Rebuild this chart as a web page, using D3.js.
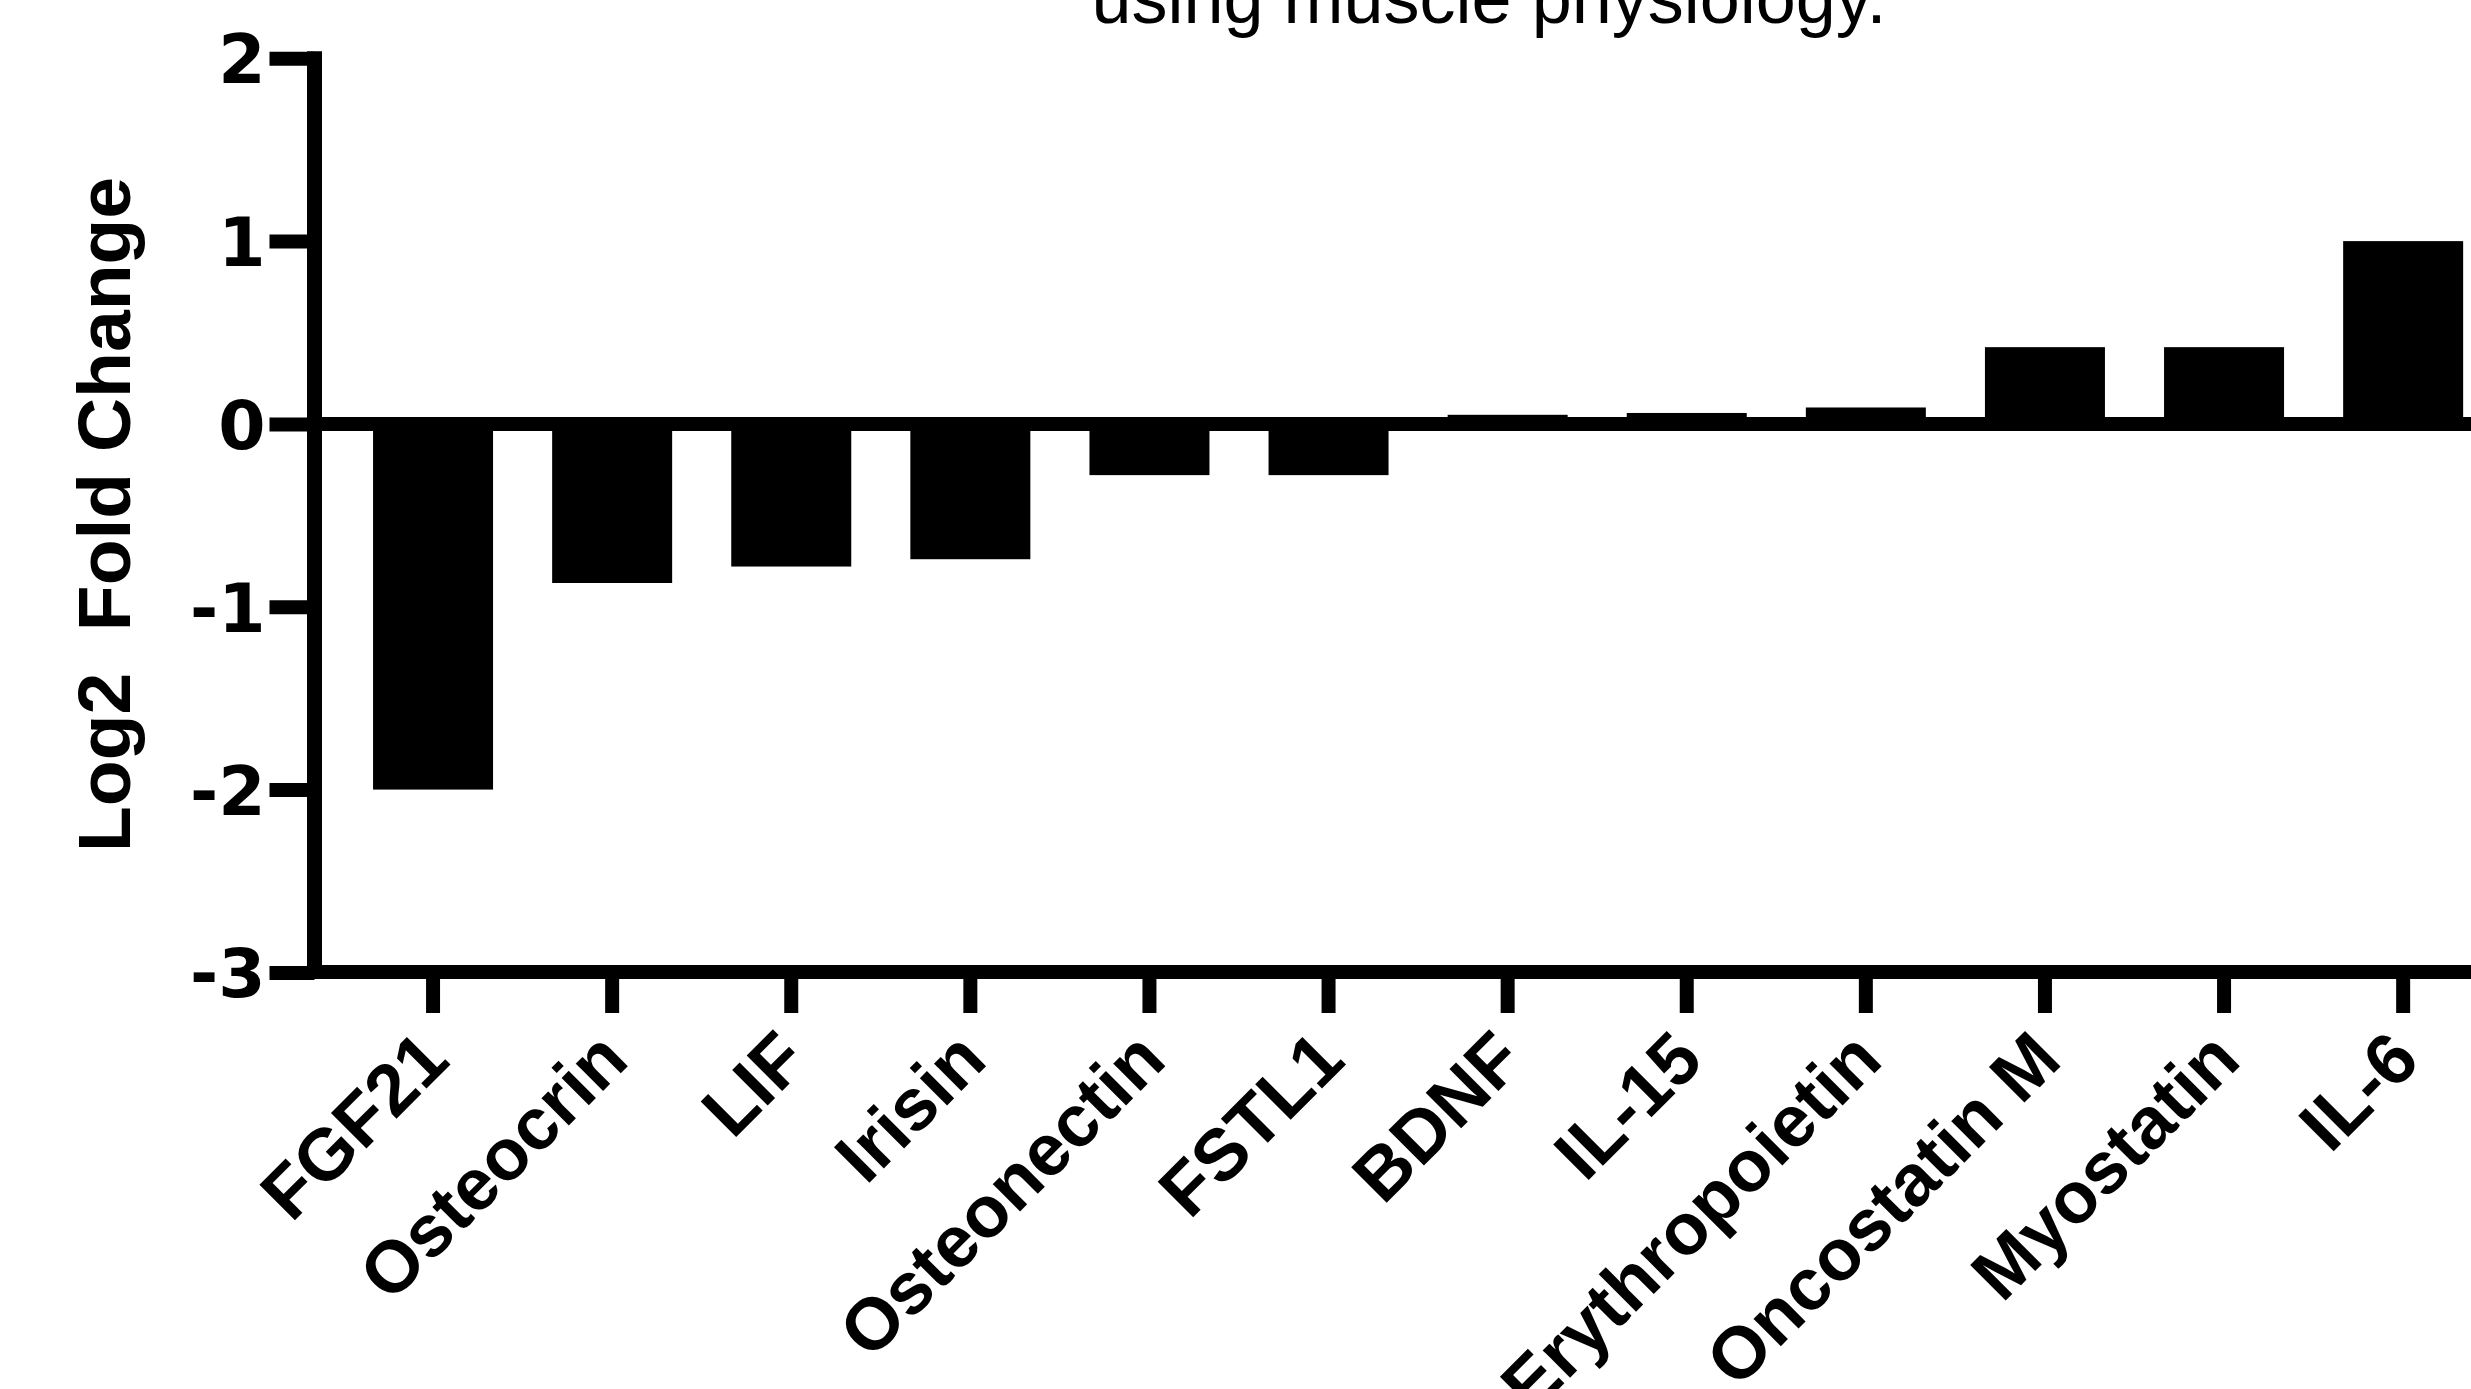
<!DOCTYPE html>
<html>
<head>
<meta charset="utf-8">
<script src="https://cdn.jsdelivr.net/npm/d3@7"></script>
<style>
  body { margin: 0; background: #fff; }
</style>
</head>
<body>
<div id="chart"></div>
<script>
var genes = ["FGF21", "Osteocrin", "LIF", "Irisin", "Osteonectin", "FSTL1",
             "BDNF", "IL-15", "Erythropoietin", "Oncostatin M", "Myostatin", "IL-6"];
var log2fc = [-2.0, -0.87, -0.78, -0.74, -0.28, -0.28, 0.05, 0.06, 0.09, 0.42, 0.42, 1.0];
var yTicks = [2, 1, 0, -1, -2, -3];
var titleLine = "using muscle physiology.";
var yTitle = "Log2\u00a0\u00a0Fold Change";

var arialBold = "'Liberation Sans', Arial, sans-serif";

var svg = d3.select("#chart").append("svg")
    .attr("width", 2471)
    .attr("height", 1389),
    width = +svg.attr("width"),
    height = +svg.attr("height");

var axisX = 314.5, axisY = 972;

var y = d3.scaleLinear().domain([-3, 2]).range([972.4, 58.3]);
var x = d3.scaleBand()
    .domain(genes)
    .range([343.5, 343.5 + 12 * 179.1])
    .paddingInner(0.33)
    .paddingOuter(0.165);

// last line of the title, the rest is cropped off
svg.append("text")
  .attr("x", 1489)
  .attr("y", 23)
  .attr("text-anchor", "middle")
  .style("font-family", arialBold)
  .style("font-size", "72px")
  .text(titleLine);

// bars
svg.selectAll(".bar")
  .data(genes)
  .enter()
  .append("rect")
  .attr("class", "bar")
  .attr("x", function(d){ return x(d); })
  .attr("width", x.bandwidth())
  .attr("y", function(d, i){ return Math.min(y(0), y(log2fc[i])); })
  .attr("height", function(d, i){ return Math.abs(y(log2fc[i]) - y(0)); })
  .attr("fill", "black");

// zero line
svg.append("line")
  .attr("x1", axisX)
  .attr("x2", width)
  .attr("y1", y(0))
  .attr("y2", y(0))
  .attr("stroke", "black")
  .attr("stroke-width", 14);

// y axis
var yAxis = svg.append("g")
  .attr("transform", "translate(" + axisX + ",0)")
  .call(d3.axisLeft(y).tickValues(yTicks).tickSize(45).tickPadding(4)
    .tickFormat(function(d){ return String(d); }));
yAxis.select(".domain").remove();
yAxis.selectAll(".tick line").attr("stroke", "black").attr("stroke-width", 14);
yAxis.selectAll(".tick text")
  .attr("dy", "0.36em")
  .style("font-family", "'DejaVu Sans', sans-serif")
  .style("font-weight", "bold")
  .style("font-size", "68px")
  .attr("fill", "black");

svg.append("line")
  .attr("x1", axisX).attr("x2", axisX)
  .attr("y1", y(2) - 7).attr("y2", axisY + 7)
  .attr("stroke", "black")
  .attr("stroke-width", 15);

// x axis
var xAxis = svg.append("g")
  .attr("transform", "translate(0," + axisY + ")")
  .call(d3.axisBottom(x).tickSize(41).tickSizeOuter(0));
xAxis.select(".domain").remove();
xAxis.selectAll(".tick line").attr("stroke", "black").attr("stroke-width", 14);
xAxis.selectAll(".tick text")
  .attr("x", 0)
  .attr("y", 0)
  .attr("dy", null)
  .attr("text-anchor", "end")
  .attr("transform", "translate(19,1063) rotate(-45)".replace("1063", 1063 - axisY))
  .style("font-family", arialBold)
  .style("font-weight", "bold")
  .style("font-size", "73px")
  .attr("fill", "black");

svg.append("line")
  .attr("x1", axisX - 7).attr("x2", width)
  .attr("y1", axisY).attr("y2", axisY)
  .attr("stroke", "black")
  .attr("stroke-width", 14);

// y axis title
svg.append("text")
  .attr("transform", "translate(130,514.5) rotate(-90)")
  .attr("text-anchor", "middle")
  .style("font-family", arialBold)
  .style("font-weight", "bold")
  .style("font-size", "75px")
  .text(yTitle);
</script>
</body>
</html>
